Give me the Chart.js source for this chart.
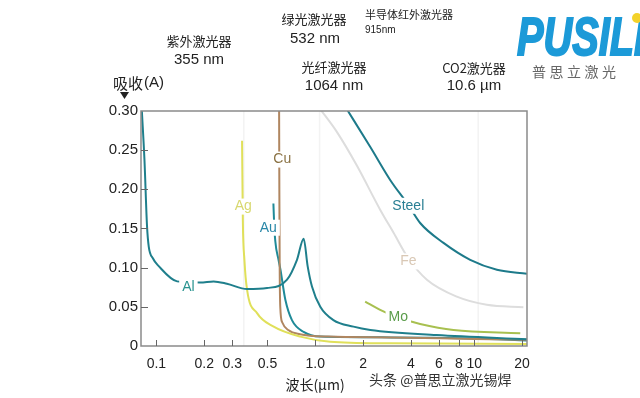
<!DOCTYPE html>
<html>
<head>
<meta charset="utf-8">
<script src="https://cdn.jsdelivr.net/npm/chart.js@4"></script>
<style>
    html, body { margin: 0; padding: 0; background: #fff; }
    #wrap { width: 640px; height: 398px; }
</style>
</head>
<body>
<div id="wrap"><canvas id="absorbChart" width="640" height="398"></canvas></div>
<script>
// =========================
// Data: wavelength (µm) vs absorption (A)
// =========================
const alWave = [0.081, 0.0841, 0.0873, 0.0895, 0.095, 0.1034, 0.135, 0.189, 0.229, 0.278, 0.372, 0.497, 0.664, 0.767, 0.845, 0.895, 0.953, 1.075, 1.30, 1.74, 2.22, 5.8, 21.5];
const alAbs  = [0.300, 0.238, 0.153, 0.127, 0.112, 0.102, 0.0825, 0.081, 0.0825, 0.0795, 0.0727, 0.074, 0.0846, 0.110, 0.137, 0.102, 0.076, 0.050, 0.033, 0.0247, 0.0205, 0.014, 0.0086];

const agWave = [0.346, 0.350, 0.358, 0.372, 0.43, 0.547, 0.805, 1.24, 3.0, 21.5];
const agAbs  = [0.262, 0.160, 0.110, 0.072, 0.042, 0.0247, 0.012, 0.0055, 0.0035, 0.0025];

const cuWave = [0.592, 0.594, 0.597, 0.602, 0.62, 0.68, 0.80, 1.2, 3.0, 10, 21.5];
const cuAbs  = [0.300, 0.200, 0.100, 0.050, 0.030, 0.020, 0.015, 0.012, 0.011, 0.009, 0.008];

const auWave = [0.545, 0.550, 0.560, 0.587, 0.603, 0.648, 0.713, 0.844, 1.075, 3.0, 10, 21.5];
const auAbs  = [0.182, 0.160, 0.134, 0.110, 0.098, 0.059, 0.033, 0.018, 0.012, 0.011, 0.0095, 0.007];

const steelWave = [1.55, 2.22, 2.96, 3.85, 4.57, 6.41, 9.44, 13.9, 21.5];
const steelAbs  = [0.305, 0.254, 0.212, 0.180, 0.157, 0.1316, 0.110, 0.0974, 0.0923];

const feWave = [1.05, 1.37, 1.83, 2.56, 3.11, 3.85, 5.04, 7.78, 12.0, 20.4];
const feAbs  = [0.305, 0.273, 0.230, 0.174, 0.1445, 0.112, 0.0846, 0.063, 0.0526, 0.0496];

const moWave = [2.06, 2.56, 3.33, 4.57, 7.41, 19.5];
const moAbs  = [0.0568, 0.046, 0.036, 0.0282, 0.0205, 0.0163];

// curve labels, placed in data units
const curveNames = ['Al', 'Ag', 'Cu', 'Au', 'Steel', 'Fe', 'Mo'];
const labelWave  = [0.159, 0.352, 0.620, 0.506, 3.85, 3.85, 3.33];
const labelAbs   = [0.0756, 0.178, 0.238, 0.151, 0.179, 0.108, 0.037];

// laser wavelengths (µm)
const laserWave = [0.355, 1.064, 10.6];

// axis ticks
const xTicks = [0.1, 0.2, 0.3, 0.5, 1.0, 2, 4, 6, 8, 10, 20];
const xTickLabels = ['0.1', '0.2', '0.3', '0.5', '1.0', '2', '4', '6', '8', '10', '20'];

const lineColors  = ['#1f7f8c', '#e0e05a', '#b08660', '#1f8a98', '#1d7a8a', '#dddddd', '#a8c050'];
const labelColors = ['#2a9490', '#d8d870', '#8b7345', '#2a88a8', '#2a7f94', '#d9c8b5', '#5a9c4a'];

function zip(w, a) {
    return w.map(function (v, i) { return { x: v, y: a[i] }; });
}

const series = [
    zip(alWave, alAbs), zip(agWave, agAbs), zip(cuWave, cuAbs), zip(auWave, auAbs),
    zip(steelWave, steelAbs), zip(feWave, feAbs), zip(moWave, moAbs)
];

const SANS = '"Liberation Sans", Arial, sans-serif';
const CJK = '"Noto Sans CJK SC", "Liberation Sans", sans-serif';

// =========================
// Extra drawing: laser lines, labels, frame, header
// =========================
const decorPlugin = {
    id: 'decor',
    beforeDatasetsDraw(chart) {
        const { ctx, chartArea: a, scales: { x } } = chart;
        ctx.save();
        ctx.strokeStyle = '#f3f3f3';
        ctx.lineWidth = 1.5;
        laserWave.forEach(function (w) {
            const px = x.getPixelForValue(w);
            ctx.beginPath();
            ctx.moveTo(px, a.top);
            ctx.lineTo(px, a.bottom);
            ctx.stroke();
        });
        ctx.restore();
    },
    afterDatasetsDraw(chart) {
        const { ctx, scales: { x, y } } = chart;
        ctx.save();
        ctx.font = '14px ' + SANS;
        ctx.textAlign = 'center';
        ctx.textBaseline = 'middle';
        curveNames.forEach(function (name, i) {
            const px = x.getPixelForValue(labelWave[i]);
            const py = y.getPixelForValue(labelAbs[i]);
            const w = ctx.measureText(name).width;
            ctx.fillStyle = '#ffffff';
            ctx.fillRect(px - w / 2 - 3, py - 8, w + 6, 16);
            ctx.fillStyle = labelColors[i];
            ctx.fillText(name, px, py);
        });
        ctx.restore();
    },
    afterDraw(chart) {
        const { ctx, chartArea: a, scales: { x, y } } = chart;
        ctx.save();

        // frame
        ctx.strokeStyle = '#8a8a8a';
        ctx.lineWidth = 1.5;
        ctx.strokeRect(a.left, a.top, a.right - a.left, a.bottom - a.top);

        // inward tick marks
        ctx.strokeStyle = '#666';
        ctx.lineWidth = 1;
        xTicks.forEach(function (v) {
            const px = Math.round(x.getPixelForValue(v)) + 0.5;
            ctx.beginPath();
            ctx.moveTo(px, a.bottom);
            ctx.lineTo(px, a.bottom - 6);
            ctx.stroke();
        });
        for (let v = 0.05; v < 0.3; v += 0.05) {
            const py = Math.round(y.getPixelForValue(v)) + 0.5;
            ctx.beginPath();
            ctx.moveTo(a.left, py);
            ctx.lineTo(a.left + 7, py);
            ctx.stroke();
        }

        // y axis title + arrow
        ctx.fillStyle = '#222';
        ctx.textBaseline = 'middle';
        ctx.textAlign = 'left';
        ctx.font = '15px ' + CJK;
        ctx.fillText('吸收', 113, 83);
        ctx.font = '15px ' + SANS;
        ctx.fillText('(A)', 144, 83);
        ctx.beginPath();
        ctx.moveTo(120, 92);
        ctx.lineTo(129, 92);
        ctx.lineTo(124.5, 99);
        ctx.closePath();
        ctx.fill();

        // x axis title
        ctx.textAlign = 'center';
        ctx.font = '14px ' + CJK;
        ctx.fillText('波长(µm)', 315, 385);

        // laser headers
        ctx.font = '13px ' + CJK;
        ctx.fillText('紫外激光器', 199, 41);
        ctx.fillText('绿光激光器', 314, 19);
        ctx.fillText('光纤激光器', 334, 67);
        ctx.fillText('CO2激光器', 474, 68);
        ctx.font = '15px ' + SANS;
        ctx.fillText('355 nm', 199, 60);
        ctx.fillText('532 nm', 315, 39);
        ctx.fillText('1064 nm', 334, 86);
        ctx.fillText('10.6 µm', 474, 86);
        ctx.textAlign = 'left';
        ctx.font = '11px ' + CJK;
        ctx.fillText('半导体红外激光器', 365, 15);
        ctx.font = '10px ' + SANS;
        ctx.fillText('915nm', 365, 30);

        // logo
        ctx.font = 'italic bold 54px "Liberation Sans Narrow", ' + SANS;
        const lw = ctx.measureText('PUSILI').width;
        ctx.save();
        ctx.translate(517, 55);
        ctx.scale(128 / lw, 1);
        ctx.fillStyle = '#1c9ad8';
        ctx.strokeStyle = '#1c9ad8';
        ctx.lineWidth = 2;
        ctx.textBaseline = 'alphabetic';
        ctx.fillText('PUSILI', 0, 0);
        ctx.strokeText('PUSILI', 0, 0);
        ctx.restore();
        ctx.fillStyle = '#f3d22a';
        ctx.beginPath();
        ctx.arc(637, 18, 5, 0, Math.PI * 2);
        ctx.fill();
        ctx.fillStyle = '#666';
        ctx.font = '14px ' + CJK;
        ctx.textAlign = 'center';
        '普思立激光'.split('').forEach(function (c, i) {
            ctx.fillText(c, 539 + i * 17.5, 72);
        });

        // watermark
        ctx.textAlign = 'left';
        ctx.font = '14px ' + CJK;
        ctx.fillStyle = '#333';
        ctx.fillText('头条 @普思立激光锡焊', 369, 380);

        ctx.restore();
    }
};

// =========================
// Chart
// =========================
let ctx = document.getElementById('absorbChart').getContext('2d');

let absorbChart = new Chart(ctx, {
    type: 'line',
    data: {
        datasets: series.map(function (pts, i) {
            return {
                label: curveNames[i],
                data: pts,
                borderColor: lineColors[i],
                borderWidth: 2,
                pointRadius: 0,
                fill: false,
                cubicInterpolationMode: 'monotone'
            };
        })
    },
    options: {
        responsive: false,
        devicePixelRatio: 1,
        animation: false,
        layout: { padding: { top: 111, right: 113, left: 0, bottom: 0 } },
        plugins: {
            legend: { display: false },
            tooltip: { enabled: false }
        },
        scales: {
            x: {
                type: 'logarithmic',
                min: 0.08,
                max: 21.5,
                afterBuildTicks: function (scale) {
                    scale.ticks = xTicks.map(function (v) { return { value: v }; });
                },
                afterFit: function (scale) { scale.height = 52; },
                grid: { display: false, drawTicks: false },
                border: { display: false },
                ticks: {
                    autoSkip: false,
                    maxRotation: 0,
                    padding: 10,
                    color: '#222',
                    font: { family: SANS, size: 14 },
                    callback: function (v) {
                        const i = xTicks.indexOf(v);
                        return i >= 0 ? xTickLabels[i] : '';
                    }
                }
            },
            y: {
                min: 0,
                max: 0.30,
                afterFit: function (scale) { scale.width = 141; },
                grid: { display: false, drawTicks: false },
                border: { display: false },
                ticks: {
                    stepSize: 0.05,
                    padding: 3,
                    color: '#222',
                    font: { family: SANS, size: 15 },
                    callback: function (v) {
                        return v === 0 ? '0' : Number(v).toFixed(2);
                    }
                }
            }
        }
    },
    plugins: [decorPlugin]
});
</script>
</body>
</html>
